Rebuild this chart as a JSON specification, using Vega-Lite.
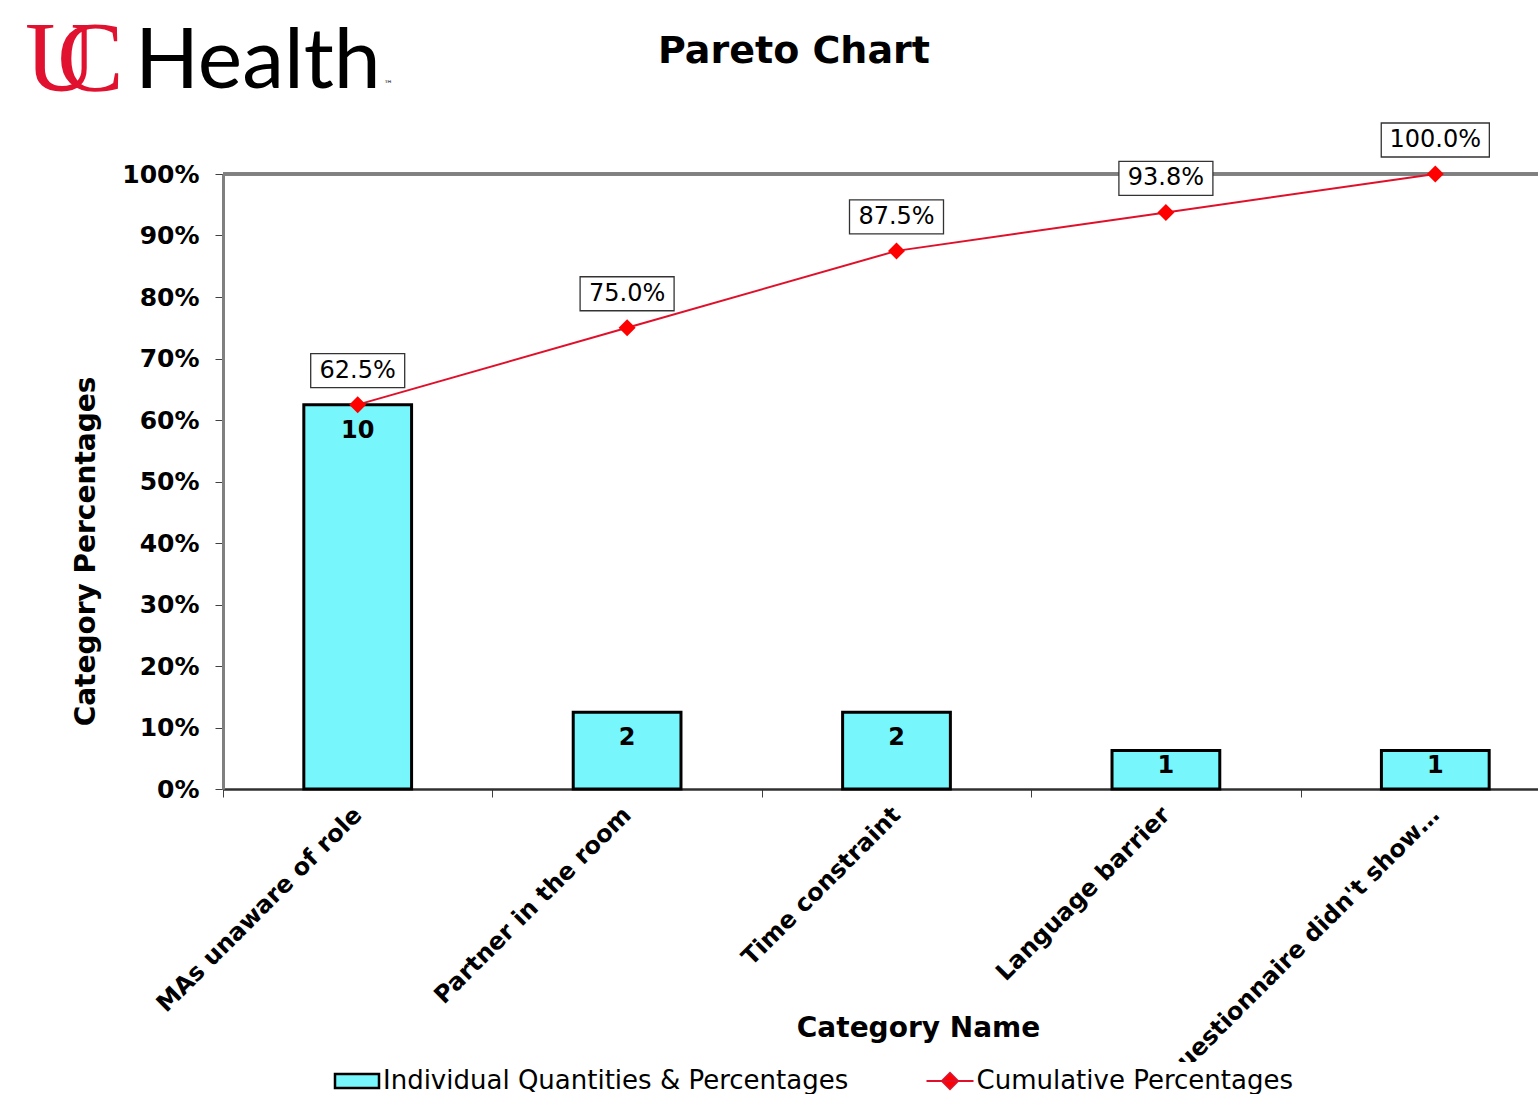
{
  "$schema": "https://vega.github.io/schema/vega-lite/v6.json",
  "autosize": {"type": "none"},
  "padding": {"left": 223, "top": 174, "right": 0, "bottom": 305},
  "width": 1315,
  "height": 615,
  "background": "white",
  "title": {"text": "Pareto Chart", "font": "DejaVu Sans", "fontSize": 38, "fontWeight": "bold", "color": "black", "anchor": "start", "frame": "group", "dx": 435, "dy": 91, "baseline": "alphabetic", "offset": 0},
  "data": {"values": [
    {"category": "MAs unaware of role", "count": 10, "pct": 0.625, "cum": 0.625},
    {"category": "Partner in the room", "count": 2, "pct": 0.125, "cum": 0.75},
    {"category": "Time constraint", "count": 2, "pct": 0.125, "cum": 0.875},
    {"category": "Language barrier", "count": 1, "pct": 0.0625, "cum": 0.9375},
    {"category": "Questionnaire didn't show…", "count": 1, "pct": 0.0625, "cum": 1.0}
  ]},
  "layer": [
    {
      "mark": {"type": "rule", "color": "#808080", "strokeWidth": 3},
      "encoding": {"y": {"datum": 1, "type": "quantitative"}}
    },
    {
      "encoding": {
        "x": {"field": "category", "type": "nominal", "sort": null,
              "scale": {"range": [0, 1347], "paddingInner": 0, "paddingOuter": 0},
              "axis": {"title": "Category Name"}}
      },
      "layer": [
        {
          "mark": {"type": "bar", "stroke": "black", "strokeWidth": 3, "width": {"band": 0.4}},
          "encoding": {
            "y": {"field": "pct", "type": "quantitative", "title": "Category Percentages",
                  "scale": {"domain": [0, 1], "nice": false},
                  "axis": {"values": [0, 0.1, 0.2, 0.3, 0.4, 0.5, 0.6, 0.7, 0.8, 0.9, 1], "format": ".0%"}},
            "fill": {"datum": "Individual Quantities & Percentages",
                     "scale": {"domain": ["Individual Quantities & Percentages"], "range": ["#77f7fb"]},
                     "legend": {
                       "orient": "none", "legendX": 115, "legendY": 888, "title": null, "padding": 6, "fillColor": "white",
                       "labelFont": "DejaVu Sans", "labelFontSize": 26, "labelColor": "black", "labelOffset": 13,
                       "labelLimit": 1000, "symbolSize": 400, "symbolType": "M-2.2,-0.7H2.2V0.7H-2.2Z",
                       "symbolStrokeColor": "black", "symbolStrokeWidth": 2.5, "symbolOpacity": 1
                     }}
          }
        },
        {
          "transform": [{"filter": "datum.count >= 2"}],
          "mark": {"type": "text", "dy": 26, "font": "DejaVu Sans", "fontWeight": "bold", "fontSize": 24, "color": "black", "baseline": "middle"},
          "encoding": {
            "y": {"field": "pct", "type": "quantitative", "title": "Category Percentages"},
            "text": {"field": "count", "type": "quantitative"}
          }
        },
        {
          "transform": [{"filter": "datum.count < 2"}],
          "mark": {"type": "text", "dy": 15, "font": "DejaVu Sans", "fontWeight": "bold", "fontSize": 24, "color": "black", "baseline": "middle"},
          "encoding": {
            "y": {"field": "pct", "type": "quantitative", "title": "Category Percentages"},
            "text": {"field": "count", "type": "quantitative"}
          }
        },
        {
          "mark": {"type": "line", "strokeWidth": 2},
          "encoding": {
            "y": {"field": "cum", "type": "quantitative", "title": "Category Percentages"},
            "stroke": {"datum": "Cumulative Percentages",
                       "scale": {"domain": ["Cumulative Percentages"], "range": ["#e0102a"]},
                       "legend": {
                         "orient": "none", "legendX": 708, "legendY": 888, "title": null, "padding": 6, "fillColor": "white",
                         "labelFont": "DejaVu Sans", "labelFontSize": 26, "labelColor": "black", "labelOffset": 13.5,
                         "labelLimit": 1000, "symbolSize": 400, "symbolType": "M-2.35,0H2.35M-0.8,0L0,-0.8L0.8,0L0,0.8Z",
                         "symbolFillColor": "#ff0000", "symbolStrokeWidth": 2, "symbolOpacity": 1
                       }}
          }
        },
        {
          "mark": {"type": "point", "shape": "diamond", "filled": true, "size": 289, "color": "#ff0000", "opacity": 1},
          "encoding": {
            "y": {"field": "cum", "type": "quantitative", "title": "Category Percentages"}
          }
        },
        {
          "mark": {"type": "point", "filled": true, "fill": "white", "stroke": "#333333", "strokeWidth": 1.3, "size": 8836, "opacity": 1, "fillOpacity": 1, "yOffset": -34},
          "encoding": {
            "y": {"field": "cum", "type": "quantitative", "title": "Category Percentages"},
            "shape": {"condition": {"test": "datum.cum >= 1", "value": "M-1.15,-0.3617H1.15V0.3617H-1.15Z"}, "value": "M-1,-0.3617H1V0.3617H-1Z"}
          }
        },
        {
          "mark": {"type": "text", "font": "DejaVu Sans", "fontSize": 24, "color": "black", "baseline": "middle", "yOffset": -34},
          "encoding": {
            "y": {"field": "cum", "type": "quantitative", "title": "Category Percentages"},
            "text": {"field": "cum", "type": "quantitative", "format": ".1%"}
          }
        }
      ]
    },
    {
      "data": {"values": [{}]},
      "mark": {"type": "text", "text": "Health", "font": "Lato", "fontSize": 84, "color": "black", "align": "left", "baseline": "alphabetic"},
      "encoding": {"x": {"value": -88}, "y": {"value": -86}}
    },
    {
      "data": {"values": [{}]},
      "mark": {"type": "text", "text": "™", "font": "DejaVu Sans", "fontSize": 9, "color": "black", "align": "left", "baseline": "alphabetic"},
      "encoding": {"x": {"value": 161}, "y": {"value": -87}}
    },
    {
      "data": {"values": [{}]},
      "mark": {"type": "text", "text": "U", "font": "Liberation Serif", "fontSize": 100, "color": "#e0122f", "align": "left", "baseline": "alphabetic"},
      "encoding": {"x": {"value": -198}, "y": {"value": -84}}
    },
    {
      "data": {"values": [{}]},
      "mark": {"type": "text", "text": "C", "font": "Liberation Serif", "fontSize": 100, "color": "#e0122f", "align": "left", "baseline": "alphabetic"},
      "encoding": {"x": {"value": -166}, "y": {"value": -84}}
    }
  ],
  "config": {
    "view": {"stroke": null},
    "axis": {"labelFont": "DejaVu Sans", "labelFontWeight": "bold", "labelFontSize": 24, "labelColor": "black",
             "titleFont": "DejaVu Sans", "titleFontWeight": "bold", "titleFontSize": 28, "titleColor": "black"},
    "axisY": {"tickSize": 8, "labelPadding": 16, "labelFontSize": 25, "tickColor": "#404040", "domainColor": "#808080", "domainWidth": 3,
              "gridColor": "#3a3a3a", "gridWidth": 1, "titleX": -137, "titleY": 377, "titleBaseline": "middle", "titleAlign": "center"},
    "axisX": {"tickSize": 8, "tickColor": "#404040", "domainColor": "#303030", "domainWidth": 2.5, "labelAngle": -45,
              "labelAlign": "right", "labelBaseline": "middle", "labelPadding": 14, "labelLimit": 1000, "grid": false,
              "tickBand": "extent", "titleY": 239, "titleX": 695, "titleBaseline": "middle"}
  }
}
